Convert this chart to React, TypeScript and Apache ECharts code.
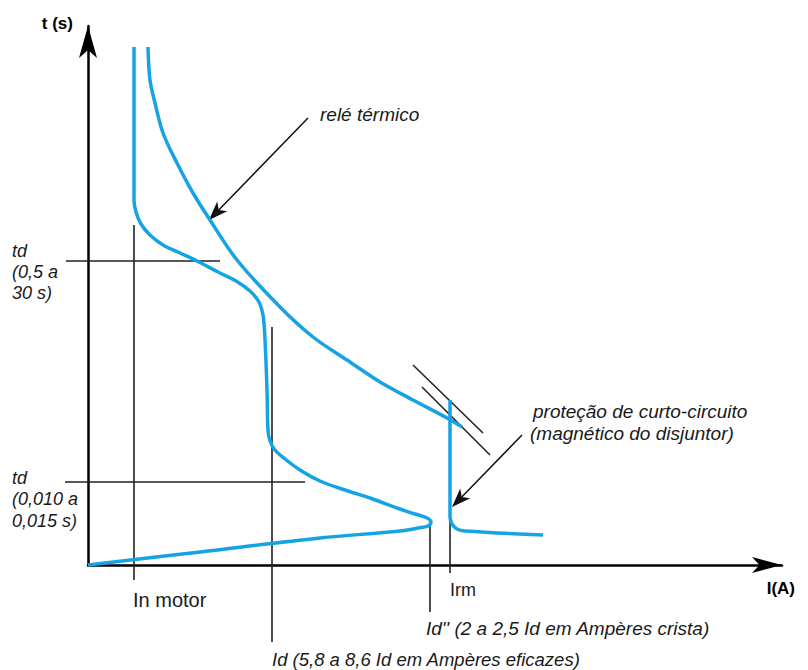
import React, { useEffect, useRef } from "react";
import * as echarts from "echarts";

// Schematic units: x = current (arbitrary), y = time (arbitrary)
const motorCurve: [number, number][] = [
  [46, 518], [46, 365], [48, 353], [53, 341], [62, 330], [75, 320], [92, 312],
  [109, 304], [130, 293], [148, 284], [162, 274], [171, 263], [175, 250],
  [177, 225], [179, 175], [180, 135], [182, 124], [187, 115], [197, 106],
  [212, 95], [232, 84], [257, 75], [282, 67], [312, 56], [327, 51], [339, 47],
  [343, 43], [340, 39], [330, 37], [312, 34], [232, 27], [112, 13], [0, 0],
];

const thermalCurve: [number, number][] = [
  [60, 518], [62, 485], [67, 462], [75, 432], [89, 402], [105, 372], [122, 345],
  [149, 305], [192, 258], [225, 228], [259, 205], [292, 183], [325, 165],
  [359, 147], [374, 138],
];

const magneticCurve: [number, number][] = [
  [362, 165], [362, 48], [364, 41], [369, 36], [377, 34], [455, 30],
];

// reference segments [x1, y1, x2, y2]
const referenceLines: number[][] = [
  [46, 340, 46, -15],     // In motor
  [184, 238, 184, -77],   // Id
  [342, 42, 342, -47],    // Id''
  [362, 45, 362, -8],     // Irm
  [-22, 304, 132, 304],   // td (0,5 a 30 s)
  [-23, 83, 217, 83],     // td (0,010 a 0,015 s)
  [325, 200, 395, 132],   // magnetic threshold band
  [334, 178, 402, 110],
];

// pointer arrows [x1, y1, xTip, yTip]
const pointerArrows: number[][] = [
  [220, 447, 121, 345],
  [434, 130, 364, 58],
];

const BLUE = "#15a4e3";
const FONT = '"Liberation Sans", Arial, Helvetica, sans-serif';

export default function App() {
  const ref = useRef<HTMLDivElement>(null);

  useEffect(() => {
    const chart = echarts.init(ref.current!, null, { renderer: "svg" });

    const curve = (name: string, data: [number, number][]) => ({
      name,
      type: "line",
      data,
      smooth: 0.35,
      symbol: "none",
      clip: false,
      silent: true,
      lineStyle: { color: BLUE, width: 3.5 },
    });

    const txt = (text: string, x: number, y: number, extra: any = {}) => ({
      type: "text",
      x,
      y,
      silent: true,
      style: {
        text,
        fill: "#1a1a1a",
        fontFamily: FONT,
        fontSize: 19,
        fontStyle: "italic",
        verticalAlign: "middle",
        align: "left",
        ...extra,
      },
    });

    chart.setOption({
      animation: false,
      backgroundColor: "#ffffff",
      grid: { left: 88, top: 26, right: 26, bottom: 105 },
      xAxis: {
        type: "value",
        min: 0,
        max: 694,
        axisLine: {
          show: true,
          onZero: false,
          symbol: ["none", "arrow"],
          symbolSize: [12, 30],
          lineStyle: { color: "#000", width: 2.5 },
        },
        axisTick: { show: false },
        axisLabel: { show: false },
        splitLine: { show: false },
      },
      yAxis: {
        type: "value",
        min: 0,
        max: 539,
        name: "t (s)",
        nameLocation: "end",
        nameGap: 3,
        nameTextStyle: {
          fontFamily: FONT,
          fontWeight: "bold",
          fontSize: 17,
          color: "#000",
          align: "right",
          verticalAlign: "middle",
          padding: [0, 15, 0, 0],
        },
        axisLine: {
          show: true,
          onZero: false,
          symbol: ["none", "arrow"],
          symbolSize: [13.5, 32],
          lineStyle: { color: "#000", width: 2.5 },
        },
        axisTick: { show: false },
        axisLabel: { show: false },
        splitLine: { show: false },
      },
      series: [
        {
          name: "referências",
          type: "custom",
          coordinateSystem: "cartesian2d",
          silent: true,
          clip: false,
          data: referenceLines,
          renderItem: (_p: any, api: any) => {
            const a = api.coord([api.value(0), api.value(1)]);
            const b = api.coord([api.value(2), api.value(3)]);
            return {
              type: "line",
              shape: { x1: a[0], y1: a[1], x2: b[0], y2: b[1] },
              style: { stroke: "#222", lineWidth: 1.6 },
            };
          },
        },
        curve("partida do motor", motorCurve),
        curve("relé térmico", thermalCurve),
        curve("magnético", magneticCurve),
        {
          name: "setas",
          type: "custom",
          coordinateSystem: "cartesian2d",
          silent: true,
          clip: false,
          data: pointerArrows,
          renderItem: (_p: any, api: any) => {
            const a = api.coord([api.value(0), api.value(1)]);
            const t = api.coord([api.value(2), api.value(3)]);
            const dx = t[0] - a[0];
            const dy = t[1] - a[1];
            const len = Math.sqrt(dx * dx + dy * dy);
            const ux = dx / len;
            const uy = dy / len;
            const L = 19;
            const W = 7;
            const N = 14;
            const bx = t[0] - ux * L;
            const by = t[1] - uy * L;
            const nx = t[0] - ux * N;
            const ny = t[1] - uy * N;
            return {
              type: "group",
              children: [
                {
                  type: "line",
                  shape: { x1: a[0], y1: a[1], x2: nx, y2: ny },
                  style: { stroke: "#111", lineWidth: 1.5 },
                },
                {
                  type: "polygon",
                  shape: {
                    points: [
                      [t[0], t[1]],
                      [bx - uy * W, by + ux * W],
                      [nx, ny],
                      [bx + uy * W, by - ux * W],
                    ],
                  },
                  style: { fill: "#111" },
                },
              ],
            };
          },
        },
      ],
      graphic: [
        txt("I(A)", 795, 588, { fontStyle: "normal", fontWeight: "bold", fontSize: 17, align: "right", fill: "#000" }),
        txt("relé térmico", 320, 114),
        txt("proteção de curto-circuito", 533, 411),
        txt("(magnético do disjuntor)", 530, 433),
        txt("td\n(0,5 a\n30 s)", 12, 240, { verticalAlign: "top", lineHeight: 21, fontSize: 18 }),
        txt("td\n(0,010 a\n0,015 s)", 12, 467, { verticalAlign: "top", lineHeight: 21.5, fontSize: 18 }),
        txt("In motor", 133, 600, { fontStyle: "normal", fontSize: 20 }),
        txt("Irm", 450, 590, { fontStyle: "normal", fontSize: 18 }),
        txt("Id'' (2 a 2,5 Id em Ampères crista)", 426, 628),
        txt("Id (5,8 a 8,6 Id em Ampères eficazes)", 272, 659, { fontSize: 18.5 }),
      ],
    });

    return () => chart.dispose();
  }, []);

  return (
    <div
      ref={ref}
      style={{ position: "fixed", left: 0, top: 0, width: 808, height: 670, background: "#fff" }}
    />
  );
}
